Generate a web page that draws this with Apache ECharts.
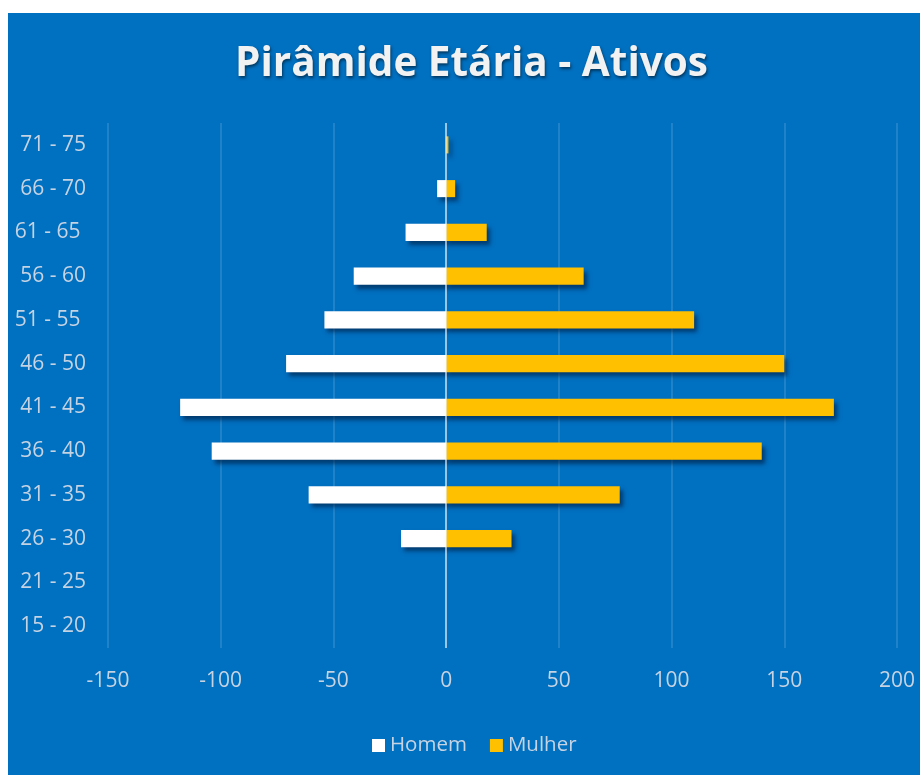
<!DOCTYPE html>
<html>
<head>
<meta charset="utf-8">
<script src="https://cdn.jsdelivr.net/npm/echarts@6/dist/echarts.min.js"></script>
<style>
  html, body { margin: 0; padding: 0; background: #ffffff; }
  #chart { position: absolute; left: 8px; top: 13px; width: 912px; height: 762px; }
</style>
</head>
<body>
<div id="chart"></div>
<script>
const categories = ['15 - 20', '21 - 25', '26 - 30', '31 - 35', '36 - 40', '41 - 45', '46 - 50', '51 - 55 ', '56 - 60', '61 - 65 ', '66 - 70', '71 - 75'];
const homem = [0, 0, -20, -61, -104, -118, -71, -54, -41, -18, -4, 0];
const mulher = [0, 0, 29, 77, 140, 172, 150, 110, 61, 18, 4, 1];
const xTicks = { min: -150, max: 200, interval: 50 };

const labelColor = '#C6D3E3';
const fontFamily = '"Open Sans", Lato, sans-serif';
const noZero = arr => arr.map(v => (v === 0 ? null : v));
const barShadow = {
  shadowColor: 'rgba(0,25,60,0.6)',
  shadowBlur: 4,
  shadowOffsetX: 3,
  shadowOffsetY: 4
};

const chart = echarts.init(document.getElementById('chart'));
chart.setOption({
  backgroundColor: '#0070C0',
  animation: false,
  title: {
    text: 'Pirâmide Etária - Ativos',
    left: 222,
    top: 26,
    textStyle: {
      color: '#F2F2F2',
      fontFamily: fontFamily,
      fontWeight: 'bold',
      fontSize: 40.5,
      textShadowColor: 'rgba(0,0,0,0.5)',
      textShadowBlur: 3,
      textShadowOffsetX: 1,
      textShadowOffsetY: 2
    }
  },
  legend: {
    bottom: 14,
    left: 359,
    itemWidth: 13,
    itemHeight: 13,
    itemGap: 23,
    icon: 'rect',
    textStyle: { color: labelColor, fontSize: 20.5, fontFamily: fontFamily },
    data: ['Homem', 'Mulher']
  },
  grid: { left: 100, right: 23, top: 110, bottom: 127, containLabel: false },
  xAxis: {
    type: 'value',
    min: xTicks.min,
    max: xTicks.max,
    interval: xTicks.interval,
    axisLine: { show: false },
    axisTick: { show: false },
    axisLabel: { color: labelColor, fontSize: 21, fontFamily: fontFamily, margin: 23 },
    splitLine: { lineStyle: { color: 'rgba(255,255,255,0.17)', width: 1.5 } }
  },
  yAxis: {
    type: 'category',
    data: categories,
    axisLine: { show: false },
    axisTick: { show: false },
    axisLabel: { color: labelColor, fontSize: 21, fontFamily: fontFamily, margin: 22 },
    splitLine: { show: false }
  },
  series: [
    {
      name: 'Homem',
      type: 'bar',
      data: noZero(homem),
      barWidth: '39%',
      barGap: '-100%',
      itemStyle: Object.assign({ color: '#FFFFFF', borderWidth: 0 }, barShadow),
      markLine: {
        silent: true,
        symbol: 'none',
        label: { show: false },
        lineStyle: { color: 'rgba(255,255,255,0.55)', width: 2, type: 'solid' },
        data: [{ xAxis: 0 }]
      }
    },
    {
      name: 'Mulher',
      type: 'bar',
      data: noZero(mulher),
      barWidth: '39%',
      itemStyle: Object.assign({ color: '#FFC000', borderWidth: 0 }, barShadow)
    }
  ]
});
</script>
</body>
</html>
